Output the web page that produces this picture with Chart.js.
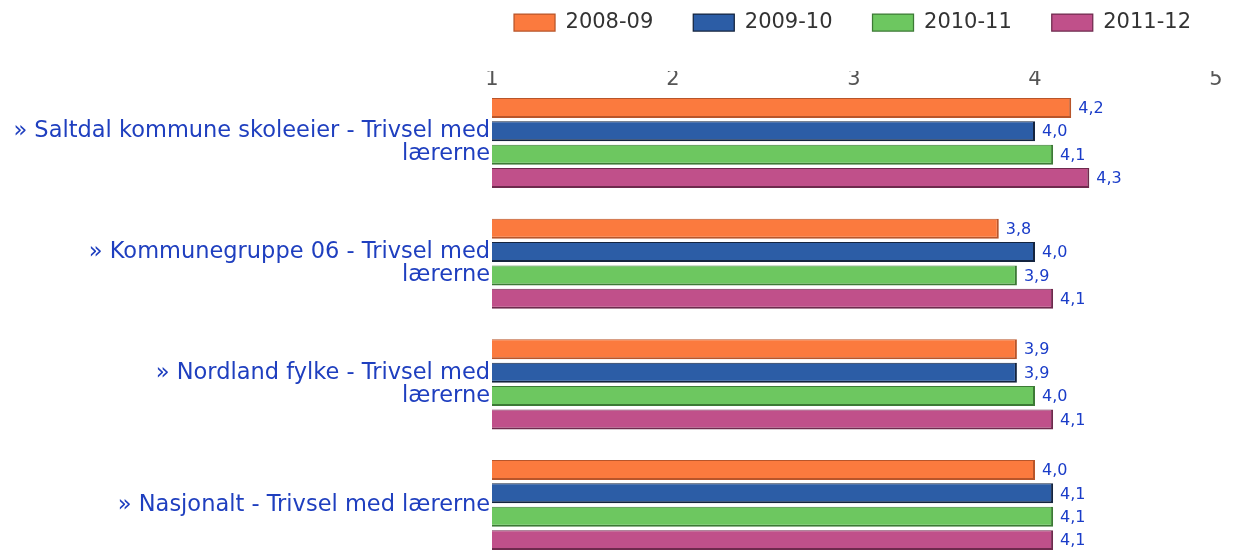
<!DOCTYPE html>
<html>
<head>
<meta charset="utf-8">
<script src="https://cdn.jsdelivr.net/npm/chart.js@4/dist/chart.umd.min.js"></script>
<style>
  html, body { margin: 0; padding: 0; background: #ffffff; }
  #wrap { width: 1239px; height: 552px; position: relative; }
</style>
</head>
<body>
<div id="wrap"><canvas id="c"></canvas></div>
<script>
// ---- data ----
const categories = [
  ["» Saltdal kommune skoleeier - Trivsel med", "lærerne"],
  ["» Kommunegruppe 06 - Trivsel med", "lærerne"],
  ["» Nordland fylke - Trivsel med", "lærerne"],
  "» Nasjonalt - Trivsel med lærerne"
];
const seriesNames = ["2008-09", "2009-10", "2010-11", "2011-12"];
const values2008 = [4.2, 3.8, 3.9, 4.0];
const values2009 = [4.0, 4.0, 3.9, 4.1];
const values2010 = [4.1, 3.9, 4.0, 4.1];
const values2011 = [4.3, 4.1, 4.1, 4.1];
const xTicks = [1, 2, 3, 4, 5];

const fills = ['#fb7a3e', '#2c5da6', '#6dc760', '#c0508a'];
const borders = ['#b8552a', '#14243f', '#3c7a35', '#6e2a4d'];
const allValues = [values2008, values2009, values2010, values2011];

const valueLabels = {
  id: 'valueLabels',
  afterDatasetsDraw(chart) {
    const ctx = chart.ctx;
    ctx.save();
    ctx.font = '16px "DejaVu Sans"';
    ctx.fillStyle = '#1a3cc8';
    ctx.textAlign = 'left';
    ctx.textBaseline = 'middle';
    chart.data.datasets.forEach((ds, di) => {
      const meta = chart.getDatasetMeta(di);
      meta.data.forEach((bar, i) => {
        const v = ds.data[i].x;
        ctx.fillText(v.toFixed(1).replace('.', ','), bar.x + 7, bar.y + 1);
      });
    });
    ctx.restore();
  }
};

const legendShift = {
  id: 'legendShift',
  afterLayout(chart) {
    const lg = chart.legend;
    if (!lg) return;
    lg.left += 15; lg.right += 15;
    lg.top -= 28; lg.bottom -= 28;
  }
};

new Chart(document.getElementById('c'), {
  type: 'bar',
  data: {
    datasets: seriesNames.map((name, k) => ({
      label: name,
      data: allValues[k].map((v, i) => ({ x: v, y: i })),
      backgroundColor: fills[k],
      borderColor: borders[k],
      borderWidth: { top: 1, right: 2, bottom: 2, left: 0 },
      borderSkipped: false,
      categoryPercentage: 0.775,
      barPercentage: 0.855
    }))
  },
  options: {
    indexAxis: 'y',
    responsive: true,
    maintainAspectRatio: false,
    animation: false,
    layout: { padding: { top: 0, right: 23, bottom: 0, left: 0 } },
    plugins: {
      legend: {
        position: 'top',
        align: 'end',
        labels: {
          boxWidth: 41,
          boxHeight: 17,
          padding: 40,
          color: '#333333',
          font: { family: '"DejaVu Sans"', size: 21 }
        }
      },
      tooltip: { enabled: false }
    },
    scales: {
      x: {
        position: 'top',
        type: 'linear',
        min: 1,
        max: 5,
        afterBuildTicks(scale) { scale.ticks = xTicks.map(v => ({ value: v })); },
        afterFit(scale) { scale.height = 24; },
        grid: { display: false, drawTicks: false },
        border: { display: false },
        ticks: {
          padding: 3,
          color: '#555555',
          font: { family: '"DejaVu Sans"', size: 21 }
        }
      },
      y: {
        type: 'linear',
        offset: false,
        reverse: true,
        min: -0.398,
        max: 3.389,
        afterBuildTicks(scale) { scale.ticks = categories.map((c, i) => ({ value: i })); },
        afterFit(scale) { scale.width = 492; scale.paddingTop = 0; scale.paddingBottom = 0; },
        grid: { display: false, drawTicks: false, offset: false },
        border: { display: false },
        ticks: {
          padding: 2,
          color: '#1f3fbf',
          font: { family: '"DejaVu Sans"', size: 22.5, lineHeight: 1.03 },
          callback: (value) => categories[value]
        }
      }
    }
  },
  plugins: [valueLabels, legendShift]
});
</script>
</body>
</html>
